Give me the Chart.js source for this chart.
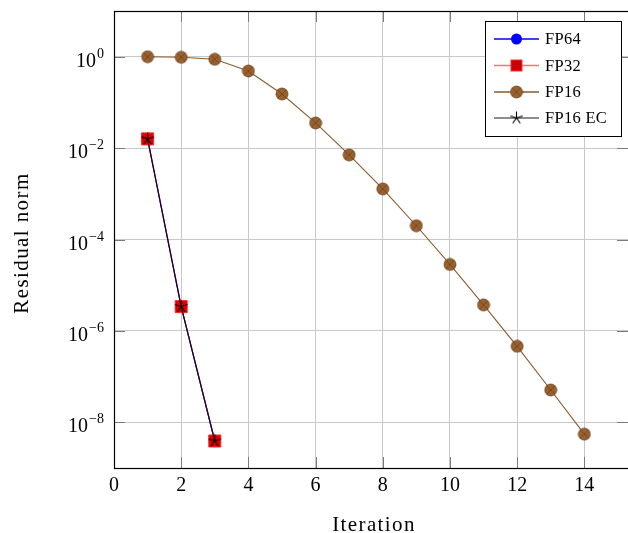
<!DOCTYPE html>
<html>
<head>
<meta charset="utf-8">
<script src="https://cdn.jsdelivr.net/npm/chart.js@4.4.0/dist/chart.umd.min.js"></script>
<style>
    html, body { margin: 0; padding: 0; background: #fff; }
</style>
</head>
<body>
<canvas id="residualChart" width="628" height="533"></canvas>
<script>
// data
const fp16Iterations = [1, 2, 3, 4, 5, 6, 7, 8, 9, 10, 11, 12, 13, 14];
const fp16Residual = [1.0, 0.97, 0.877, 0.487, 0.153, 0.0355, 0.0071, 0.00128, 2.0e-4, 2.84e-5, 3.7e-6, 4.6e-7, 5.1e-8, 5.5e-9];
const hiIterations = [1, 2, 3];
const fp64Residual = [0.0159, 3.4e-6, 3.9e-9];
const fp32Residual = [0.0159, 3.4e-6, 3.9e-9];
const fp16ecResidual = [0.0159, 3.4e-6, 3.9e-9];
const seriesNames = ['FP64', 'FP32', 'FP16', 'FP16 EC'];
const xTickValues = [0, 2, 4, 6, 8, 10, 12, 14];
const yTickExponents = [0, -2, -4, -6, -8];

const FONT = '"Liberation Serif", "DejaVu Serif", serif';
const GRID = '#c8c8c8';
const BROWN = '#8b5a2b';

const toPoints = (xs, ys) => xs.map((x, i) => ({ x, y: ys[i] }));

// pgfplots-like marks drawn on small canvases
function otimesMark(r) {
    const c = document.createElement('canvas');
    const s = Math.ceil(r * 2 + 2);
    c.width = s; c.height = s;
    const g = c.getContext('2d');
    const m = s / 2;
    g.beginPath();
    g.arc(m, m, r, 0, Math.PI * 2);
    g.fillStyle = '#9a612e';
    g.fill();
    g.lineWidth = 0.8;
    g.strokeStyle = '#6a4220';
    g.stroke();
    const d = r * Math.SQRT1_2;
    g.beginPath();
    g.moveTo(m - d, m - d); g.lineTo(m + d, m + d);
    g.moveTo(m - d, m + d); g.lineTo(m + d, m - d);
    g.stroke();
    return c;
}

function starMark(r) {
    const c = document.createElement('canvas');
    const s = Math.ceil(r * 2 + 2);
    c.width = s; c.height = s;
    const g = c.getContext('2d');
    const m = s / 2;
    g.strokeStyle = '#000';
    g.lineWidth = 1.1;
    g.beginPath();
    for (let k = 0; k < 5; k++) {
        const a = -Math.PI / 2 + k * 2 * Math.PI / 5;
        g.moveTo(m, m);
        g.lineTo(m + r * Math.cos(a), m + r * Math.sin(a));
    }
    g.stroke();
    return c;
}

const brownMark = otimesMark(6);
const blackStar = starMark(6.5);

const datasets = [
    {
        label: seriesNames[0],
        data: toPoints(hiIterations, fp64Residual),
        borderColor: '#0000ff',
        backgroundColor: '#0000ff',
        borderWidth: 1.2,
        pointStyle: 'circle',
        pointRadius: 5.5,
        order: 3
    },
    {
        label: seriesNames[1],
        data: toPoints(hiIterations, fp32Residual),
        borderColor: 'rgba(255,0,0,0.5)',
        backgroundColor: '#e00000',
        pointBorderColor: '#ff2a2a',
        borderWidth: 1.2,
        pointStyle: 'rect',
        pointRadius: 8.5,
        pointBorderWidth: 1,
        order: 2
    },
    {
        label: seriesNames[2],
        data: toPoints(fp16Iterations, fp16Residual),
        borderColor: BROWN,
        backgroundColor: BROWN,
        borderWidth: 1.1,
        pointStyle: brownMark,
        order: 1
    },
    {
        label: seriesNames[3],
        data: toPoints(hiIterations, fp16ecResidual),
        borderColor: 'rgba(0,0,0,0.75)',
        backgroundColor: '#000',
        borderWidth: 1.2,
        pointStyle: blackStar,
        order: 0
    }
];

// frame, inner tick marks, y tick labels, titles and legend
const pgfDecor = {
    id: 'pgfDecor',
    beforeDatasetsDraw(chart) {
        const { ctx, chartArea: a, scales } = chart;
        ctx.save();
        ctx.strokeStyle = '#7a7a7a';
        ctx.lineWidth = 1;
        const tl = 11;
        ctx.beginPath();
        xTickValues.forEach(v => {
            const px = Math.round(scales.x.getPixelForValue(v)) + 0.5;
            ctx.moveTo(px, a.bottom); ctx.lineTo(px, a.bottom - tl);
            ctx.moveTo(px, a.top); ctx.lineTo(px, a.top + tl);
        });
        yTickExponents.forEach(e => {
            const py = Math.round(scales.y.getPixelForValue(Math.pow(10, e))) + 0.5;
            ctx.moveTo(a.left, py); ctx.lineTo(a.left + tl, py);
            ctx.moveTo(a.right, py); ctx.lineTo(a.right - tl, py);
        });
        ctx.stroke();
        ctx.strokeStyle = '#000';
        ctx.lineWidth = 1.2;
        ctx.strokeRect(a.left + 0.5, a.top + 0.5, a.right - a.left - 1 + 2, a.bottom - a.top);
        ctx.restore();
    },
    afterDraw(chart) {
        const { ctx, chartArea: a, scales } = chart;
        ctx.save();
        ctx.fillStyle = '#000';

        // y tick labels as 10^e
        yTickExponents.forEach(e => {
            const py = scales.y.getPixelForValue(Math.pow(10, e));
            const sup = e === 0 ? '0' : '\u2212' + Math.abs(e);
            ctx.textAlign = 'right';
            ctx.textBaseline = 'alphabetic';
            ctx.font = '14px ' + FONT;
            const supW = ctx.measureText(sup).width;
            ctx.fillText(sup, a.left - 10, py + 1);
            ctx.font = '20px ' + FONT;
            ctx.fillText('10', a.left - 11 - supW, py + 10);
        });

        // axis titles
        ctx.font = '21px ' + FONT;
        ctx.letterSpacing = '1.4px';
        ctx.textAlign = 'center';
        ctx.textBaseline = 'alphabetic';
        ctx.fillText('Iteration', 374, 531);
        ctx.save();
        ctx.translate(28, 243);
        ctx.rotate(-Math.PI / 2);
        ctx.fillText('Residual norm', 0, 0);
        ctx.restore();
        ctx.letterSpacing = '0px';

        // legend
        const bx = 485.5, by = 21.5, bw = 136, bh = 115;
        ctx.fillStyle = '#fff';
        ctx.fillRect(bx, by, bw, bh);
        ctx.strokeStyle = '#000';
        ctx.lineWidth = 1;
        ctx.strokeRect(bx, by, bw, bh);
        const rowsY = [39, 65.5, 92, 118];
        const legendLines = ['#0000ff', 'rgba(255,0,0,0.55)', BROWN, 'rgba(0,0,0,0.6)'];
        rowsY.forEach((y, i) => {
            ctx.strokeStyle = legendLines[i];
            ctx.lineWidth = 1.4;
            ctx.beginPath();
            ctx.moveTo(494, y); ctx.lineTo(539, y);
            ctx.stroke();
            const cx = 516.5;
            if (i === 0) {
                ctx.fillStyle = '#0000ff';
                ctx.beginPath(); ctx.arc(cx, y, 5.5, 0, Math.PI * 2); ctx.fill();
            } else if (i === 1) {
                ctx.fillStyle = '#cc0000';
                ctx.fillRect(cx - 5.5, y - 5.5, 11, 11);
                ctx.strokeStyle = '#ff3030';
                ctx.lineWidth = 1;
                ctx.strokeRect(cx - 5.5, y - 5.5, 11, 11);
            } else if (i === 2) {
                ctx.drawImage(brownMark, cx - brownMark.width / 2, y - brownMark.height / 2);
            } else {
                ctx.drawImage(blackStar, cx - blackStar.width / 2, y - blackStar.height / 2);
            }
            ctx.fillStyle = '#000';
            ctx.font = '16.5px ' + FONT;
            ctx.letterSpacing = '0.3px';
            ctx.textAlign = 'left';
            ctx.textBaseline = 'middle';
            ctx.fillText(seriesNames[i], 545, y + 1);
            ctx.letterSpacing = '0px';
        });
        ctx.restore();
    }
};

new Chart(document.getElementById('residualChart'), {
    type: 'line',
    data: { datasets },
    options: {
        responsive: false,
        devicePixelRatio: 1,
        animation: false,
        events: [],
        layout: { autoPadding: false, padding: { top: 11, left: 0, right: 0, bottom: 0 } },
        elements: { line: { tension: 0 } },
        scales: {
            x: {
                type: 'linear',
                min: 0,
                max: 15.3,
                afterBuildTicks: scale => { scale.ticks = xTickValues.map(v => ({ value: v })); },
                afterFit: scale => {
                    scale.height = 65;
                    scale.paddingLeft = 0;
                    scale.paddingRight = 0;
                },
                ticks: {
                    color: '#000',
                    font: { family: FONT, size: 20 },
                    padding: 6,
                    maxRotation: 0
                },
                grid: { color: GRID, drawTicks: false },
                border: { display: false }
            },
            y: {
                type: 'logarithmic',
                min: 1e-9,
                max: 10,
                afterBuildTicks: scale => { scale.ticks = yTickExponents.map(e => ({ value: Math.pow(10, e) })); },
                afterFit: scale => {
                    scale.width = 114;
                    scale.paddingTop = 0;
                    scale.paddingBottom = 0;
                },
                ticks: { display: false },
                grid: { color: GRID, drawTicks: false },
                border: { display: false }
            }
        },
        plugins: {
            legend: { display: false },
            tooltip: { enabled: false }
        }
    },
    plugins: [pgfDecor]
});
</script>
</body>
</html>
